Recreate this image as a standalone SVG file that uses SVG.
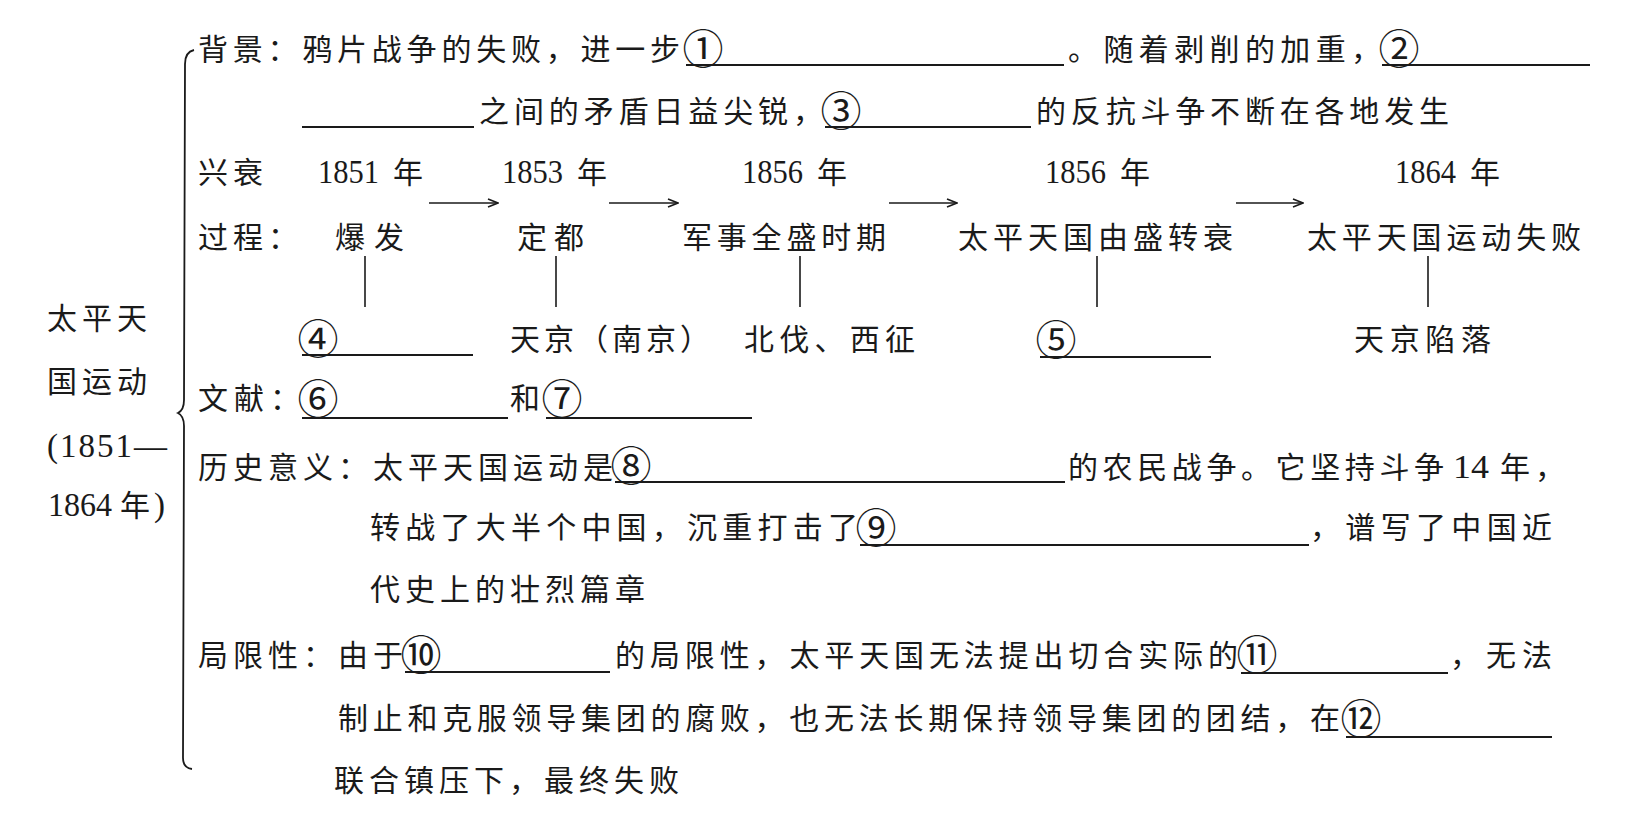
<svg xmlns="http://www.w3.org/2000/svg" width="1651" height="826" viewBox="0 0 1651 826">
<style>
.t{font-family:"Noto Sans CJK SC","Noto Sans CJK TC",sans-serif;font-size:30px;fill:#1a1a1a}
.n{font-family:"Liberation Serif","Times New Roman",serif;font-size:33px;fill:#1a1a1a}
.k{font-family:"Noto Sans CJK SC","DejaVu Sans",sans-serif;font-size:41px;fill:#1a1a1a;text-anchor:middle}
.u{stroke:#1a1a1a;stroke-width:1.8;fill:none}
.c{stroke:#1a1a1a;stroke-width:1.6;fill:none}
</style>
<defs>
<marker id="ah" viewBox="0 0 12 10" refX="11" refY="5" markerWidth="12" markerHeight="10" markerUnits="userSpaceOnUse" orient="auto">
<path d="M1,1 L11,5 L1,9" fill="none" stroke="#1a1a1a" stroke-width="1.6"/>
</marker>
</defs>
<rect width="1651" height="826" fill="#ffffff"/>

<g id="title">
<text class="t" x="47" y="329" textLength="100" lengthAdjust="spacing">太平天</text>
<text class="t" x="47" y="392" textLength="100" lengthAdjust="spacing">国运动</text>
<text class="n" x="47" y="457" textLength="120" lengthAdjust="spacing">(1851—</text>
<text class="n" x="48" y="516" textLength="64" lengthAdjust="spacingAndGlyphs">1864</text>
<text class="t" x="120" y="516">年</text>
<text class="n" x="154" y="516">)</text>
</g>

<g id="brace">
<path class="u" d="M194,50 Q185,52 185,64 L184,400 Q184,410 178,413 Q184,416 184,426 L183,758 Q183,768 192,769"/>
</g>

<g id="background">
<text class="t" x="198" y="60" textLength="482" lengthAdjust="spacing">背景：鸦片战争的失败，进一步</text>
<text class="k" x="703" y="64">①</text>
<line class="u" x1="686" y1="65" x2="1064" y2="65"/>
<text class="t" x="1068" y="60" textLength="313" lengthAdjust="spacing">。随着剥削的加重，</text>
<text class="k" x="1399" y="64">②</text>
<line class="u" x1="1382" y1="65" x2="1590" y2="65"/>
<line class="u" x1="302" y1="127" x2="474" y2="127"/>
<text class="t" x="479" y="122" textLength="344" lengthAdjust="spacing">之间的矛盾日益尖锐，</text>
<text class="k" x="841" y="126">③</text>
<line class="u" x1="825" y1="127" x2="1031" y2="127"/>
<text class="t" x="1036" y="122" textLength="413" lengthAdjust="spacing">的反抗斗争不断在各地发生</text>
</g>

<g id="process-label">
<text class="t" x="198" y="183" textLength="65" lengthAdjust="spacing">兴衰</text>
<text class="t" x="198" y="248" style="letter-spacing:5px">过程：</text>
</g>

<g id="stage-1851">
<text class="n" x="318" y="183" textLength="61" lengthAdjust="spacingAndGlyphs">1851</text>
<text class="t" x="393" y="183">年</text>
<text class="t" x="335" y="248" textLength="69" lengthAdjust="spacing">爆发</text>
<text class="k" x="318" y="354">④</text>
<line class="u" x1="302" y1="355" x2="473" y2="355"/>
</g>

<g id="stage-1853">
<text class="n" x="502" y="183" textLength="61" lengthAdjust="spacingAndGlyphs">1853</text>
<text class="t" x="577" y="183">年</text>
<text class="t" x="517" y="248" textLength="67" lengthAdjust="spacing">定都</text>
<text class="t" x="510" y="350" textLength="200" lengthAdjust="spacing">天京（南京）</text>
</g>

<g id="stage-1856a">
<text class="n" x="742" y="183" textLength="61" lengthAdjust="spacingAndGlyphs">1856</text>
<text class="t" x="817" y="183">年</text>
<text class="t" x="682" y="248" textLength="204" lengthAdjust="spacing">军事全盛时期</text>
<text class="t" x="744" y="350" textLength="171" lengthAdjust="spacing">北伐、西征</text>
</g>

<g id="stage-1856b">
<text class="n" x="1045" y="183" textLength="61" lengthAdjust="spacingAndGlyphs">1856</text>
<text class="t" x="1120" y="183">年</text>
<text class="t" x="958" y="248" textLength="275" lengthAdjust="spacing">太平天国由盛转衰</text>
<text class="k" x="1056" y="355">⑤</text>
<line class="u" x1="1040" y1="357" x2="1211" y2="357"/>
</g>

<g id="stage-1864">
<text class="n" x="1395" y="183" textLength="61" lengthAdjust="spacingAndGlyphs">1864</text>
<text class="t" x="1470" y="183">年</text>
<text class="t" x="1307" y="248" textLength="274" lengthAdjust="spacing">太平天国运动失败</text>
<text class="t" x="1354" y="350" textLength="137" lengthAdjust="spacing">天京陷落</text>
</g>

<g id="connectors">
<line class="c" x1="429" y1="203" x2="498" y2="203" marker-end="url(#ah)"/>
<line class="c" x1="609" y1="203" x2="678" y2="203" marker-end="url(#ah)"/>
<line class="c" x1="889" y1="203" x2="957" y2="203" marker-end="url(#ah)"/>
<line class="c" x1="1236" y1="203" x2="1303" y2="203" marker-end="url(#ah)"/>
<line class="c" x1="365" y1="256" x2="365" y2="307"/>
<line class="c" x1="556" y1="256" x2="556" y2="307"/>
<line class="c" x1="800" y1="256" x2="800" y2="307"/>
<line class="c" x1="1097" y1="256" x2="1097" y2="307"/>
<line class="c" x1="1428" y1="256" x2="1428" y2="307"/>
</g>

<g id="documents">
<text class="t" x="198" y="409" textLength="102" lengthAdjust="spacing">文献：</text>
<text class="k" x="318" y="414">⑥</text>
<line class="u" x1="302" y1="418" x2="508" y2="418"/>
<text class="t" x="510" y="409">和</text>
<text class="k" x="562" y="414">⑦</text>
<line class="u" x1="546" y1="418" x2="752" y2="418"/>
</g>

<g id="significance">
<text class="t" x="198" y="478" textLength="415" lengthAdjust="spacing">历史意义：太平天国运动是</text>
<text class="k" x="631" y="481">⑧</text>
<line class="u" x1="615" y1="482" x2="1065" y2="482"/>
<text class="t" x="1068" y="478" textLength="376" lengthAdjust="spacing">的农民战争。它坚持斗争</text>
<text class="n" x="1453" y="478" textLength="36" lengthAdjust="spacingAndGlyphs">14</text>
<text class="t" x="1500" y="478" style="letter-spacing:5px">年，</text>
<text class="t" x="370" y="538" textLength="488" lengthAdjust="spacing">转战了大半个中国，沉重打击了</text>
<text class="k" x="876" y="543">⑨</text>
<line class="u" x1="860" y1="545" x2="1309" y2="545"/>
<text class="t" x="1310" y="538" textLength="242" lengthAdjust="spacing">，谱写了中国近</text>
<text class="t" x="370" y="600" textLength="275" lengthAdjust="spacing">代史上的壮烈篇章</text>
</g>

<g id="limitations">
<text class="t" x="198" y="666" textLength="205" lengthAdjust="spacing">局限性：由于</text>
<text class="k" x="421" y="670">⑩</text>
<line class="u" x1="405" y1="672" x2="610" y2="672"/>
<text class="t" x="615" y="666" textLength="623" lengthAdjust="spacing">的局限性，太平天国无法提出切合实际的</text>
<text class="k" x="1257" y="670">⑪</text>
<line class="u" x1="1241" y1="673" x2="1448" y2="673"/>
<text class="t" x="1450" y="666" textLength="102" lengthAdjust="spacing">，无法</text>
<text class="t" x="338" y="729" textLength="1002" lengthAdjust="spacing">制止和克服领导集团的腐败，也无法长期保持领导集团的团结，在</text>
<text class="k" x="1361" y="734">⑫</text>
<line class="u" x1="1346" y1="737" x2="1552" y2="737"/>
<text class="t" x="334" y="791" textLength="345" lengthAdjust="spacing">联合镇压下，最终失败</text>
</g>
</svg>
